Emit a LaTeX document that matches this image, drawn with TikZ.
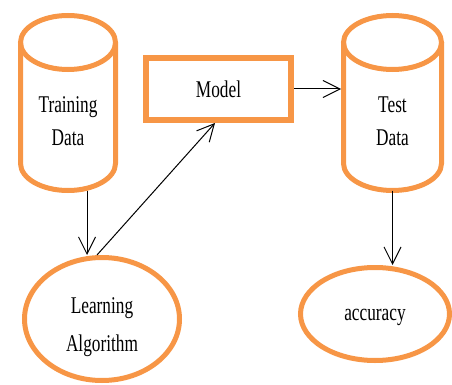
\documentclass[tikz,border=0pt]{standalone}
\usepackage{fontspec}
\setmainfont{Liberation Serif}[FakeStretch=0.72]
\usepackage{tikz}
\usetikzlibrary{positioning,shapes.geometric,arrows.meta,calc}
\definecolor{boxorange}{HTML}{F79646}

\begin{document}
\begin{tikzpicture}[x=1pt, y=-1pt,
  store/.style={draw=boxorange, line width=5pt},
  label text/.style={align=center, inner sep=0pt, font=\fontsize{24}{33}\selectfont},
  proc/.style={ellipse, draw=boxorange, line width=5pt, inner sep=0pt,
    align=center, font=\fontsize{24}{38}\selectfont},
  arr/.style={-{Straight Barb[length=17pt, width=17pt]}, line width=1pt}]
  \useasboundingbox (0,0) rectangle (452,385);
  % the two data stores
  \foreach \n/\x/\r in {train/68/47.5, test/392.5/49} {
    \draw[store] (\x-\r,42.5) -- (\x-\r,163.5)
      arc[start angle=180, end angle=360, x radius=\r pt, y radius=27pt] -- (\x+\r,42.5);
    \draw[store] (\x,42.5) ellipse[x radius=\r pt, y radius=27pt];
    \coordinate (\n-bot) at (\x,190.5);
    \coordinate (\n-side) at (\x-\r-2.5,89);
  }
  \node[label text] (train) at (68,121) {Training\\Data};
  \node[label text] (test) at (392.5,121) {Test\\Data};
  \node[draw=boxorange, line width=6pt, minimum width=145pt, minimum height=62pt,
    font=\fontsize{24}{32}\selectfont] (model) at (218.5,89) {Model};
  \node[proc, minimum width=155pt, minimum height=123pt, text height=70pt] (learn) at (102,319) {Learning\\Algorithm};
  \node[proc, minimum width=149pt, minimum height=93pt, text height=19pt] (acc) at (375,314) {accuracy};
  \draw[arr] ([xshift=19pt]train-bot) -- ([xshift=19pt]train-bot |- learn.north);
  \draw[arr] ([xshift=-5pt]learn.north) -- ([xshift=-3.5pt]model.south);
  \draw[arr] (model.east) -- (model.east -| test-side);
  \draw[arr] (test-bot) -- (test-bot |- acc.north);
\end{tikzpicture}
\end{document}
